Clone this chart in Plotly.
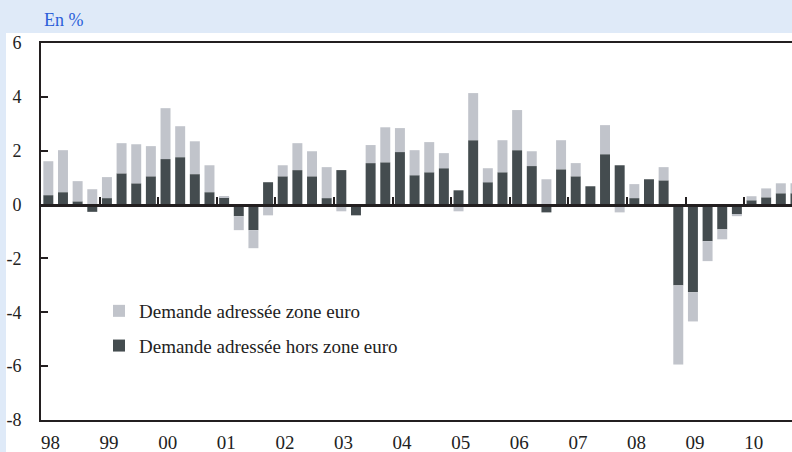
import plotly.graph_objects as go

# Contributions trimestrielles à la demande adressée (en %), 1998 T1 - 2010 T4
quarters = [f"{y}T{q}" for y in range(1998, 2011) for q in range(1, 5)]

zone_euro = [
    1.26, 1.56, 0.75, 0.57,    # 1998
    0.78, 1.12, 1.45, 1.12,    # 1999
    1.89, 1.15, 1.22, 1.00,    # 2000
    0.04, -0.52, -0.67, -0.40, # 2001
    0.41, 1.00, 0.93, 1.15,    # 2002
    -0.25, 0.00, 0.67, 1.30,   # 2003
    0.89, 0.93, 1.12, 0.56,    # 2004
    -0.25, 1.75, 0.52, 1.19,   # 2005
    1.49, 0.55, 0.94, 1.08,    # 2006
    0.49, 0.00, 1.08, -0.29,   # 2007
    0.52, -0.09, 0.49, -2.94,  # 2008
    -1.08, -0.74, -0.37, -0.07,# 2009
    0.15, 0.33, 0.37, 0.37,    # 2010
]

hors_zone_euro = [
    0.35, 0.46, 0.12, -0.27,
    0.24, 1.16, 0.79, 1.05,
    1.69, 1.76, 1.13, 0.46,
    0.27, -0.43, -0.95, 0.83,
    1.05, 1.28, 1.05, 0.24,
    1.28, -0.40, 1.54, 1.57,
    1.95, 1.09, 1.20, 1.35,
    0.53, 2.39, 0.83, 1.20,
    2.02, 1.43, -0.29, 1.31,
    1.05, 0.68, 1.87, 1.46,
    0.24, 0.94, 0.90, -3.00,
    -3.26, -1.36, -0.92, -0.36,
    0.16, 0.27, 0.42, 0.42,
]

year_labels = ["98", "99", "00", "01", "02", "03", "04", "05", "06", "07", "08", "09", "10"]
y_ticks = [-8, -6, -4, -2, 0, 2, 4, 6]

x_idx = list(range(len(quarters)))

DARK = "#444c4f"
LIGHT = "#c1c4cb"
AXIS = "#231f20"
BAND = "#dfeaf8"
FONT = "Liberation Serif"
TXT = "#222222"

W, H = 792, 452
ML, MR, MT, MB = 41, 0, 43, 32
PW, PH = W - ML - MR, H - MT - MB


def px_x(p):
    return (p - ML) / PW


def px_y(p):
    return (H - MB - p) / PH


fig = go.Figure()

fig.add_trace(go.Bar(
    x=x_idx, y=hors_zone_euro, name="Demande adressée hors zone euro",
    marker=dict(color=DARK, line=dict(width=0)),
    legendgroup="b", legendrank=2, hoverinfo="skip",
))
fig.add_trace(go.Bar(
    x=x_idx, y=zone_euro, name="Demande adressée zone euro",
    marker=dict(color=LIGHT, line=dict(width=0)),
    legendgroup="a", legendrank=1, hoverinfo="skip",
))
# carrier for the zero-line axis with year separators
fig.add_trace(go.Scatter(x=[], y=[], xaxis="x2", showlegend=False, hoverinfo="skip"))

n_years = len(year_labels)
x_max = -0.5 + (W - ML) / 14.65

fig.update_layout(
    template="none",
    width=W, height=H,
    margin=dict(l=ML, r=MR, t=MT, b=MB, pad=0),
    paper_bgcolor="white", plot_bgcolor="white",
    barmode="relative", bargap=0.32,
    font=dict(family=FONT, color=TXT, size=16),
    xaxis=dict(
        range=[-0.5, x_max], showgrid=False, zeroline=False,
        showline=True, mirror=True, linecolor=AXIS, linewidth=2,
        ticks="", tickvals=[4 * i + 0.15 for i in range(n_years)],
        ticktext=year_labels, tickfont=dict(size=19, family=FONT, color=TXT),
        ticklabelstandoff=4,
    ),
    xaxis2=dict(
        range=[-0.5, x_max], overlaying="x", anchor="free", position=8 / 14,
        side="bottom", showgrid=False, zeroline=False,
        showline=True, linecolor=AXIS, linewidth=2.5,
        ticks="inside", ticklen=7, tickwidth=2, tickcolor=AXIS,
        tickvals=[4 * i - 0.5 for i in range(1, n_years)],
        showticklabels=False,
    ),
    yaxis=dict(
        range=[-8, 6], tickvals=y_ticks, ticktext=[str(v) for v in y_ticks],
        showgrid=False, zeroline=False,
        showline=True, linecolor=AXIS, linewidth=2,
        ticks="inside", ticklen=7, tickwidth=2, tickcolor=AXIS,
        tickfont=dict(size=18, family=FONT, color=TXT),
        ticklabelstandoff=14,
    ),
    legend=dict(
        x=px_x(99), y=px_y(292), xanchor="left", yanchor="top",
        bgcolor="rgba(0,0,0,0)", traceorder="grouped", tracegroupgap=7,
        font=dict(size=19, family=FONT, color=TXT),
    ),
    shapes=[
        dict(type="rect", xref="paper", yref="paper", layer="below",
             x0=px_x(0), x1=1.0, y0=px_y(33), y1=px_y(0),
             fillcolor=BAND, line=dict(width=0)),
        dict(type="rect", xref="paper", yref="paper", layer="below",
             x0=px_x(0), x1=px_x(6), y0=px_y(H), y1=px_y(33),
             fillcolor=BAND, line=dict(width=0)),
    ],
    annotations=[
        dict(text="En %", xref="paper", yref="paper", x=px_x(42), y=px_y(20),
             xanchor="left", yanchor="middle", showarrow=False,
             font=dict(size=18, family=FONT, color="#2b5fd9")),
    ],
)

fig.write_html("out.html")
